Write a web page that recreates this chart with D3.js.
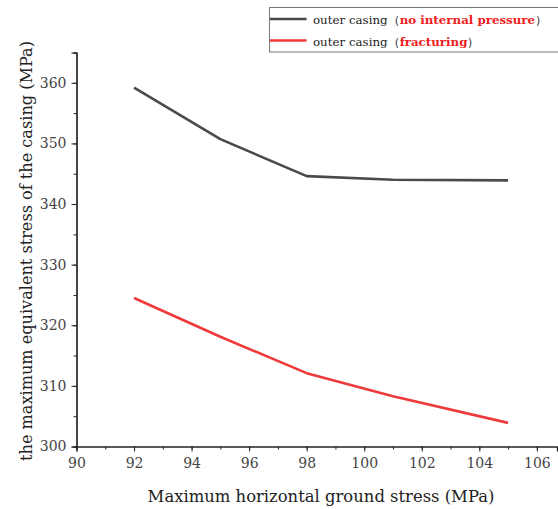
<!DOCTYPE html>
<html>
<head>
<meta charset="utf-8">
<script src="https://cdn.jsdelivr.net/npm/d3@7"></script>
<style>
  html, body { margin: 0; padding: 0; background: #fff; }
  svg { display: block; }
</style>
</head>
<body>
<svg id="chart" width="558" height="509"></svg>
<script>
// Horizontal ground stress (MPa)
const groundStress = [92, 95, 98, 101, 105];
// Maximum equivalent stress of the outer casing (MPa)
const noPressure = [359.2, 350.7, 344.6, 344.0, 343.9];
const fracturing = [324.5, 318.1, 312.1, 308.3, 303.9];

const xTicks = [90, 92, 94, 96, 98, 100, 102, 104, 106];
const yTicks = [300, 310, 320, 330, 340, 350, 360];

const seriesNames = ["no internal pressure", "fracturing"];
const seriesColors = ["#4a4a4a", "#ee3a3a"];

const SERIF = "'DejaVu Serif', serif";

const svg = d3.select("#chart").style("font-family", SERIF);

// scale a text's font size so that it spans the wanted length
function fitLength(sel, len) {
  const node = sel.node();
  const fs = parseFloat(sel.style("font-size"));
  const w = node.getComputedTextLength();
  if (w > 0) sel.style("font-size", (fs * len / w).toFixed(2) + "px");
  return sel;
}

const x = d3.scaleLinear().domain([90, 106.7]).range([76.5, 557]);
const y = d3.scaleLinear().domain([300, 365]).range([446.5, 52.5]);

const axisColor = "#222";
const tickFont = "14px";

// x axis with minor ticks
const gx = svg.append("g").attr("transform", `translate(0,${y(300)})`);
gx.call(d3.axisBottom(x).tickValues(d3.range(90, 107, 1)).tickSize(3).tickFormat(""));
gx.call(g => g.selectAll(".tick line").attr("stroke", axisColor));
const gx2 = svg.append("g").attr("transform", `translate(0,${y(300)})`);
gx2.call(d3.axisBottom(x).tickValues(xTicks).tickSize(5).tickPadding(7).tickFormat(d3.format("d")));
gx2.selectAll("path, line").attr("stroke", axisColor);
gx2.selectAll("text").style("font-size", tickFont).attr("fill", "#444")
   .style("font-family", SERIF);

// y axis with minor ticks
const gy = svg.append("g").attr("transform", `translate(${x(90)},0)`);
gy.call(d3.axisLeft(y).tickValues(d3.range(300, 366, 5)).tickSize(3).tickFormat(""));
gy.call(g => g.selectAll(".tick line").attr("stroke", axisColor));
const gy2 = svg.append("g").attr("transform", `translate(${x(90)},0)`);
gy2.call(d3.axisLeft(y).tickValues(yTicks).tickSize(5).tickPadding(5).tickFormat(d3.format("d")));
gy2.selectAll("path, line").attr("stroke", axisColor);
gy2.selectAll("text").style("font-size", tickFont).attr("fill", "#444")
   .style("font-family", SERIF);
svg.selectAll(".domain").attr("stroke", axisColor).attr("stroke-width", 1.2);

// axis titles
const xTitle = svg.append("text")
  .attr("x", 321).attr("y", 502)
  .attr("text-anchor", "middle")
  .style("font-size", "18px").style("font-family", SERIF).attr("fill", "#222")
  .text("Maximum horizontal ground stress (MPa)");
fitLength(xTitle, 347);

const yTitle = svg.append("text")
  .attr("transform", "translate(32,251) rotate(-90)")
  .attr("text-anchor", "middle")
  .style("font-size", "18px").style("font-family", SERIF).attr("fill", "#222")
  .text("the maximum equivalent stress of the casing (MPa)");
fitLength(yTitle, 420);

// series lines
const line = d3.line().x(d => x(d[0])).y(d => y(d[1]));
[noPressure, fracturing].forEach((vals, i) => {
  svg.append("path")
    .datum(groundStress.map((g, k) => [g, vals[k]]))
    .attr("d", line)
    .attr("fill", "none")
    .attr("stroke", seriesColors[i])
    .attr("stroke-width", 2.6)
    .attr("stroke-linejoin", "round");
});

// legend
const lg = svg.append("g");
lg.append("rect")
  .attr("x", 269.5).attr("y", 7.5).attr("width", 300).attr("height", 44.5)
  .attr("fill", "#fff").attr("stroke", "#777").attr("stroke-width", 1);
let legendSize = null;
seriesNames.forEach((name, i) => {
  const cy = 19 + i * 21.5;
  lg.append("line")
    .attr("x1", 270).attr("x2", 306.5).attr("y1", cy).attr("y2", cy)
    .attr("stroke", seriesColors[i]).attr("stroke-width", 2.6);
  const t = lg.append("text")
    .attr("x", 313).attr("y", cy + 5)
    .style("font-size", legendSize || "15px").style("font-family", SERIF).attr("fill", "#222");
  t.append("tspan").text("outer casing\uFF08");
  t.append("tspan").attr("fill", "#ee2020").attr("font-weight", "bold").text(name);
  t.append("tspan").text("\uFF09");
  if (i === 0) {
    fitLength(t, 234);
    legendSize = t.style("font-size");
  }
});
</script>
</body>
</html>
